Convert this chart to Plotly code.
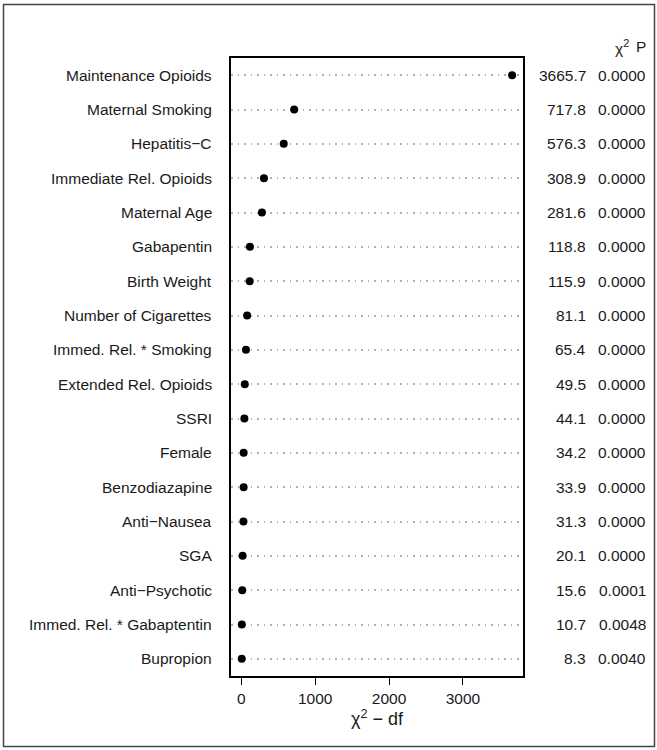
import plotly.graph_objects as go

labels = ["Maintenance Opioids", "Maternal Smoking", "Hepatitis\u2212C", "Immediate Rel. Opioids",
          "Maternal Age", "Gabapentin", "Birth Weight", "Number of Cigarettes",
          "Immed. Rel. * Smoking", "Extended Rel. Opioids", "SSRI", "Female",
          "Benzodiazapine", "Anti\u2212Nausea", "SGA", "Anti\u2212Psychotic",
          "Immed. Rel. * Gabaptentin", "Bupropion"]
chi2_text = ["3665.7", "717.8", "576.3", "308.9", "281.6", "118.8", "115.9", "81.1", "65.4",
             "49.5", "44.1", "34.2", "33.9", "31.3", "20.1", "15.6", "10.7", "8.3"]
p_text = ["0.0000"] * 15 + ["0.0001", "0.0048", "0.0040"]
# plotted value: chi-square minus df
x_vals = [3664.7, 716.8, 575.3, 307.9, 280.6, 117.8, 114.9, 80.1, 64.4,
          48.5, 43.1, 33.2, 32.9, 30.3, 19.1, 14.6, 8.7, 7.3]
x_ticks = [0, 1000, 2000, 3000]

n = len(labels)
y_pos = [n - i for i in range(n)]

W, H = 657, 750
L, R, T, B = 231, 523, 58, 676
pw, ph = R - L, B - T
def px_x(p): return (p - L) / pw
def px_y(q): return (B - q) / ph

font = "Liberation Sans, Arial, Helvetica, sans-serif"
txt = "#1a1a1a"
fs = 15.5

fig = go.Figure()
fig.add_trace(go.Scatter(x=x_vals, y=y_pos, mode="markers",
                         marker=dict(color="black", size=8), hoverinfo="skip",
                         showlegend=False, cliponaxis=False))

ann = []
for yl, lab, c, p in zip(y_pos, labels, chi2_text, p_text):
    ann.append(dict(x=0, xref="paper", y=yl, yref="y", text=lab, showarrow=False,
                    xanchor="right", yanchor="middle", xshift=-17,
                    font=dict(size=fs, color=txt, family=font)))
    ann.append(dict(x=1, xref="paper", y=yl, yref="y", text=c, showarrow=False,
                    xanchor="right", yanchor="middle", xshift=65,
                    font=dict(size=fs, color=txt, family=font)))
    ann.append(dict(x=1, xref="paper", y=yl, yref="y", text=p, showarrow=False,
                    xanchor="right", yanchor="middle", xshift=125,
                    font=dict(size=fs, color=txt, family=font)))
ann.append(dict(x=1, xref="paper", y=px_y(47), yref="paper", text="\u03c7<sup>2</sup>",
                showarrow=False, xanchor="right", yanchor="middle", xshift=108,
                font=dict(size=fs, color=txt, family=font)))
ann.append(dict(x=1, xref="paper", y=px_y(47), yref="paper", text="P",
                showarrow=False, xanchor="right", yanchor="middle", xshift=125,
                font=dict(size=fs, color=txt, family=font)))

fig.update_layout(
    width=W, height=H,
    margin=dict(l=L, r=W - R, t=T, b=H - B, pad=0),
    paper_bgcolor="white", plot_bgcolor="white",
    annotations=ann,
    font=dict(family=font, color=txt, size=fs),
    shapes=[dict(type="rect", xref="paper", yref="paper",
                 x0=px_x(3.5), x1=px_x(654.5), y0=px_y(746.5), y1=px_y(4.5),
                 line=dict(color="#444444", width=1.5), layer="below")],
    xaxis=dict(range=[-138, 3812], tickvals=x_ticks, ticktext=[str(t) for t in x_ticks],
               ticks="outside", ticklen=7, tickwidth=1, tickcolor="black",
               showline=True, linecolor="black", linewidth=2, mirror=True,
               showgrid=False, zeroline=False,
               tickfont=dict(size=fs, color=txt, family=font),
               title=dict(text="\u03c7<sup>2</sup> \u2212 df", standoff=5,
                          font=dict(size=18, color=txt, family=font))),
    yaxis=dict(range=[0.5, n + 0.5], tickvals=y_pos, showticklabels=False,
               showline=True, linecolor="black", linewidth=2, mirror=True,
               showgrid=True, gridcolor="#b0b0b0", gridwidth=1.5, griddash="1.5px,5px",
               zeroline=False, ticks=""),
)
fig.write_html("out.html", config={"displayModeBar": False},
               post_script="document.body.style.margin='0';")
